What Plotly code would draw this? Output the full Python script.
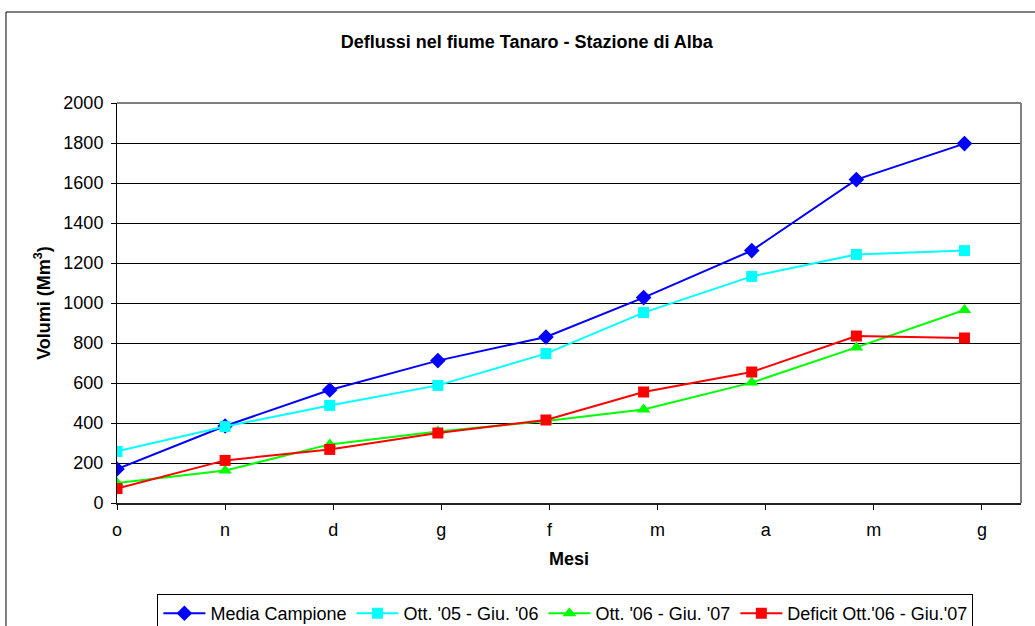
import pandas as pd
import plotly.graph_objects as go

# Monthly cumulative volumes (Mm³), first day of each month Oct -> Jun
months = ["2006-10-01", "2006-11-01", "2006-12-01", "2007-01-01", "2007-02-01",
          "2007-03-01", "2007-04-01", "2007-05-01", "2007-06-01"]
media_campione = [170, 385, 565, 712, 830, 1027, 1262, 1617, 1797]
ott05_giu06 = [258, 382, 488, 588, 747, 952, 1133, 1243, 1262]
ott06_giu07 = [100, 162, 293, 358, 410, 468, 602, 778, 965]
deficit_06_07 = [72, 213, 268, 350, 415, 555, 655, 835, 825]

# Month initials (Italian) on a fixed 31-day tick step
tick_labels = ["o", "n", "d", "g", "f", "m", "a", "m", "g"]
tick_dates = pd.date_range("2006-10-01", periods=len(tick_labels), freq="31D")

FONT = "Liberation Sans, Arial, sans-serif"

series = [
    ("Media Campione", media_campione, "#0000FF", "diamond", 12),
    ("Ott. '05 - Giu. '06", ott05_giu06, "#00FFFF", "square", 11),
    ("Ott. '06 - Giu. '07", ott06_giu07, "#00FF00", "triangle-up", 12),
    ("Deficit Ott.'06 - Giu.'07", deficit_06_07, "#FF0000", "square", 11),
]

fig = go.Figure()
for name, vals, color, symbol, size in series:
    fig.add_trace(go.Scatter(
        x=months, y=vals, name=name, mode="lines+markers",
        line=dict(color=color, width=2),
        marker=dict(color=color, symbol=symbol, size=size, line=dict(width=0)),
    ))

fig.update_layout(
    width=1035, height=626,
    margin=dict(l=117, r=14, t=103, b=123, autoexpand=False),
    paper_bgcolor="white", plot_bgcolor="white",
    font=dict(family=FONT, size=18, color="black"),
    title=dict(
        text="<b>Deflussi nel fiume Tanaro - Stazione di Alba</b>",
        xref="container", x=0.509, xanchor="center",
        yref="container", y=1 - 42 / 626, yanchor="middle",
        font=dict(size=18, family=FONT, color="black"),
    ),
    xaxis=dict(
        type="date", automargin=False,
        range=["2006-10-01", "2007-06-17 05:00"],
        tickmode="array", tickvals=tick_dates, ticktext=tick_labels,
        ticks="outside", ticklen=5, tickcolor="black", tickwidth=1,
        ticklabelstandoff=4,
        showgrid=False, zeroline=False,
        showline=True, linecolor="#222222", linewidth=2,
        title=dict(text="<b>Mesi</b>", standoff=14, font=dict(size=18)),
        tickfont=dict(size=18),
    ),
    yaxis=dict(
        range=[0, 2000], dtick=200, tick0=0, automargin=False,
        ticks="outside", ticklen=5, tickcolor="black", tickwidth=1,
        ticklabelstandoff=4,
        showgrid=True, gridcolor="black", gridwidth=1,
        zeroline=False,
        showline=True, linecolor="black", linewidth=1,
        title=dict(text="<b>Volumi (Mm<sup>3</sup>)</b>", standoff=8, font=dict(size=18)),
        tickfont=dict(size=18),
    ),
    legend=dict(
        orientation="h",
        x=0.496, xanchor="center",
        y=-0.2275, yanchor="top",
        bordercolor="black", borderwidth=1, bgcolor="white",
        font=dict(size=18),
        traceorder="normal",
        itemwidth=42,
    ),
    showlegend=True,
    shapes=[
        # outer chart frame
        dict(type="rect", xref="paper", yref="paper",
             x0=-0.1228, x1=1.06, y0=-0.45, y1=1.2275,
             line=dict(color="black", width=1), layer="below"),
        # grey plot-area frame on the top and right sides
        dict(type="line", xref="paper", yref="paper", x0=0, x1=1, y0=1, y1=1,
             line=dict(color="#808080", width=2), layer="above"),
        dict(type="line", xref="paper", yref="paper", x0=1, x1=1, y0=0, y1=1,
             line=dict(color="#808080", width=2), layer="above"),
    ],
)

fig.write_html("out.html")
